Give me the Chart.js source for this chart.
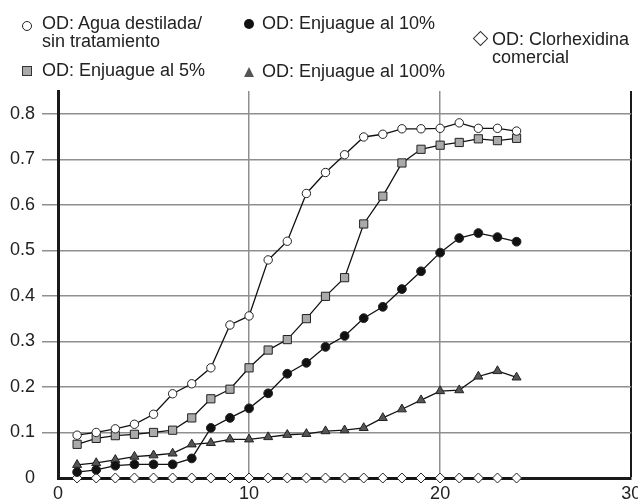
<!DOCTYPE html>
<html>
<head>
<meta charset="utf-8">
<script src="https://cdn.jsdelivr.net/npm/chart.js@4.4.1/dist/chart.umd.min.js"></script>
<style>
    body { margin: 0; background: #fff; }
    #wrap { position: relative; width: 638px; height: 499px; font-family: "Liberation Sans", Arial, sans-serif; color: #222; }
    .lbl { position: absolute; font-size: 18px; line-height: 17.5px; white-space: nowrap; }
    .mk { position: absolute; box-sizing: border-box; }
</style>
</head>
<body>
<div id="wrap">
    <canvas id="odChart" width="638" height="499"></canvas>

    <span class="mk" style="left:22px;top:21px;width:10px;height:10px;border:1px solid #222;border-radius:50%;background:#fff;"></span>
    <div class="lbl" style="left:42px;top:15px;">OD: Agua destilada/<br>sin tratamiento</div>

    <span class="mk" style="left:244px;top:19px;width:10px;height:10px;border-radius:50%;background:#111;"></span>
    <div class="lbl" style="left:262px;top:15px;">OD: Enjuague al 10%</div>

    <span class="mk" style="left:475px;top:33px;width:11px;height:11px;border:1.3px solid #333;background:#fff;transform:rotate(45deg);"></span>
    <div class="lbl" style="left:492px;top:31px;">OD: Clorhexidina<br>comercial</div>

    <span class="mk" style="left:22px;top:66px;width:10px;height:10px;border:1px solid #333;background:#aaa;"></span>
    <div class="lbl" style="left:42px;top:62px;">OD: Enjuague al 5%</div>

    <span class="mk" style="left:244px;top:67px;width:0;height:0;border-left:5px solid transparent;border-right:5px solid transparent;border-bottom:10px solid #555;"></span>
    <div class="lbl" style="left:262px;top:63px;">OD: Enjuague al 100%</div>
</div>
<script>
    // days (x) and optical density readings per treatment
    const days = [1, 2, 3, 4, 5, 6, 7, 8, 9, 10, 11, 12, 13, 14, 15, 16, 17, 18, 19, 20, 21, 22, 23, 24];
    const aguaDestilada = [0.094, 0.100, 0.108, 0.118, 0.140, 0.185, 0.207, 0.242, 0.336, 0.356, 0.479, 0.520,
                           0.625, 0.671, 0.710, 0.749, 0.755, 0.767, 0.767, 0.768, 0.780, 0.768, 0.768, 0.762];
    const enjuague5 = [0.074, 0.087, 0.093, 0.096, 0.100, 0.105, 0.132, 0.174, 0.195, 0.242, 0.281, 0.304,
                       0.350, 0.399, 0.440, 0.558, 0.619, 0.692, 0.722, 0.731, 0.737, 0.745, 0.741, 0.746];
    const enjuague10 = [0.013, 0.018, 0.027, 0.030, 0.030, 0.030, 0.043, 0.110, 0.132, 0.153, 0.186, 0.229,
                        0.253, 0.288, 0.312, 0.351, 0.376, 0.415, 0.454, 0.495, 0.527, 0.538, 0.529, 0.519];
    const enjuague100 = [0.029, 0.033, 0.040, 0.047, 0.050, 0.054, 0.074, 0.077, 0.085, 0.085, 0.090, 0.095,
                         0.097, 0.103, 0.105, 0.110, 0.132, 0.151, 0.171, 0.191, 0.193, 0.223, 0.235, 0.221];
    const clorhexidina = [0, 0, 0, 0, 0, 0, 0, 0, 0, 0, 0, 0, 0, 0, 0, 0, 0, 0, 0, 0, 0, 0, 0, 0];

    const xTicks = [0, 10, 20, 30];
    const yTicks = [0, 0.1, 0.2, 0.3, 0.4, 0.5, 0.6, 0.7, 0.8];

    const toPoints = values => values.map((v, i) => ({ x: days[i], y: v }));

    function series(label, values, style, radius, fill) {
        return {
            label,
            data: toPoints(values),
            borderColor: '#111',
            borderWidth: 1.3,
            pointStyle: style,
            pointRadius: radius,
            pointBackgroundColor: fill,
            pointBorderColor: '#222',
            pointBorderWidth: 1,
            clip: false
        };
    }

    const gridGrey = '#8f8f8f';
    const axisBlack = '#1a1a1a';

    new Chart(document.getElementById('odChart'), {
        type: 'line',
        data: {
            datasets: [
                series('OD: Agua destilada/ sin tratamiento', aguaDestilada, 'circle', 4.2, '#fff'),
                series('OD: Enjuague al 5%', enjuague5, 'rect', 5.8, '#aaa'),
                series('OD: Enjuague al 10%', enjuague10, 'circle', 4.4, '#111'),
                series('OD: Enjuague al 100%', enjuague100, 'triangle', 5.2, '#555'),
                series('OD: Clorhexidina comercial', clorhexidina, 'rectRot', 5, '#fff')
            ]
        },
        options: {
            responsive: false,
            animation: false,
            layout: { padding: { left: 0, top: 91, right: 5, bottom: 0 } },
            plugins: {
                legend: { display: false },
                tooltip: { enabled: false }
            },
            scales: {
                x: {
                    type: 'linear',
                    min: 0,
                    max: 30,
                    afterBuildTicks: scale => { scale.ticks = xTicks.map(v => ({ value: v })); },
                    afterFit: scale => {
                        scale.height = 21;
                        scale.paddingLeft = 0;
                        scale.paddingRight = 0;
                    },
                    grid: {
                        drawTicks: false,
                        color: ctx => ctx.tick.value === 30 ? axisBlack : (ctx.tick.value === 0 ? 'rgba(0,0,0,0)' : gridGrey),
                        lineWidth: ctx => ctx.tick.value === 30 ? 2 : 1.5
                    },
                    border: { display: true, color: axisBlack, width: 3 },
                    ticks: {
                        padding: 5,
                        maxRotation: 0,
                        autoSkip: false,
                        color: '#222',
                        font: { family: 'Liberation Sans', size: 18 }
                    }
                },
                y: {
                    min: 0,
                    max: 0.85,
                    afterBuildTicks: scale => { scale.ticks = yTicks.map(v => ({ value: v })); },
                    afterFit: scale => { scale.width = 58; },
                    grid: {
                        tickLength: 16,
                        color: ctx => ctx.tick.value === 0 ? 'rgba(0,0,0,0)' : gridGrey,
                        lineWidth: 1.5
                    },
                    border: { display: true, color: axisBlack, width: 3 },
                    ticks: {
                        padding: 7,
                        color: '#222',
                        font: { family: 'Liberation Sans', size: 18 },
                        callback: value => String(Number(value.toFixed(1)))
                    }
                }
            }
        }
    });
</script>
</body>
</html>
